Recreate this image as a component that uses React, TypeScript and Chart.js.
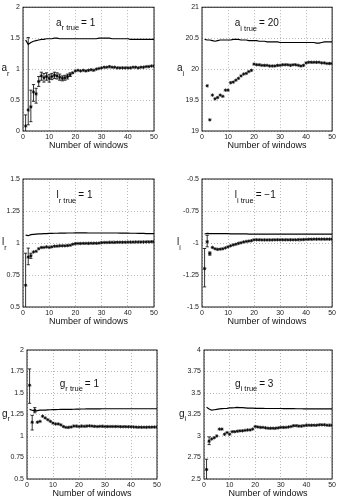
import { useEffect, useRef } from "react";
import { Chart, registerables } from "chart.js";

Chart.register(...registerables);

const FONT = '"Liberation Sans", Arial, Helvetica, sans-serif';
const INK = "#111";

// Number of analysis windows (x axis)
const WINDOWS = [
  1, 2, 3, 4, 5, 6, 7, 8, 9, 10, 11, 12, 13, 14, 15, 16, 17, 18, 19, 20,
  21, 22, 23, 24, 25, 26, 27, 28, 29, 30, 31, 32, 33, 34, 35, 36, 37, 38, 39, 40,
  41, 42, 43, 44, 45, 46, 47, 48, 49, 50,
];

// a_r : upper curve and running estimate
const AR_FIT = [
  1.47, 1.4, 1.43, 1.45, 1.46, 1.47, 1.48, 1.48, 1.49, 1.49,
  1.49, 1.5, 1.5, 1.49, 1.49, 1.49, 1.49, 1.49, 1.49, 1.49,
  1.49, 1.49, 1.49, 1.49, 1.49, 1.49, 1.49, 1.49, 1.5, 1.5,
  1.5, 1.5, 1.5, 1.49, 1.49, 1.49, 1.49, 1.49, 1.49, 1.49,
  1.48, 1.48, 1.48, 1.48, 1.48, 1.48, 1.48, 1.48, 1.48, 1.48,
];
const AR_EST = [
  0.08, 0.34, 0.39, 0.63, 0.6, 0.8, 0.89, 0.86, 0.88, 0.85,
  0.88, 0.9, 0.89, 0.87, 0.85, 0.86, 0.88, 0.91, 0.94, 0.97,
  0.98, 0.97, 0.98, 0.97, 0.98, 0.99, 0.98, 1.0, 1.01, 1.02,
  1.03, 1.03, 1.04, 1.03, 1.03, 1.02, 1.02, 1.02, 1.02, 1.02,
  1.02, 1.03, 1.03, 1.02, 1.03, 1.03, 1.04, 1.04, 1.05, 1.05,
];
const AR_LO = [-0.1, 0.1, 0.15, 0.48, 0.45, 0.72, 0.82, 0.79, 0.82, 0.79, 0.83, 0.85, 0.84, 0.82, 0.81, 0.82, 0.84, 0.88];
const AR_HI = [0.26, 1.51, 0.66, 0.75, 0.69, 0.88, 0.95, 0.93, 0.94, 0.91, 0.93, 0.95, 0.94, 0.92, 0.89, 0.9, 0.92, 0.94];

// a_i
const AI_FIT = [
  20.48, 20.47, 20.47, 20.46, 20.45, 20.46, 20.47, 20.47, 20.47, 20.47,
  20.47, 20.48, 20.48, 20.48, 20.47, 20.47, 20.47, 20.46, 20.46, 20.46,
  20.46, 20.45, 20.45, 20.45, 20.44, 20.44, 20.44, 20.44, 20.44, 20.43,
  20.43, 20.43, 20.43, 20.43, 20.43, 20.43, 20.43, 20.43, 20.43, 20.43,
  20.43, 20.43, 20.43, 20.42, 20.42, 20.43, 20.44, 20.44, 20.44, 20.44,
];
const AI_EST = [
  null, 19.73, 19.18, 19.58, 19.52, 19.54, 19.58, 19.56, 19.66, 19.66,
  19.78, 19.79, 19.82, 19.85, 19.89, 19.92, 19.93, 19.96, 19.98, 20.08,
  20.07, 20.07, 20.06, 20.06, 20.06, 20.05, 20.05, 20.05, 20.06, 20.06,
  20.07, 20.07, 20.07, 20.06, 20.07, 20.07, 20.06, 20.05, 20.06, 20.1,
  20.11, 20.11, 20.11, 20.11, 20.11, 20.1, 20.1, 20.09, 20.09, 20.09,
];
const AI_LO: number[] = [];
const AI_HI: number[] = [];

// l_r
const LR_FIT = [
  1.062, 1.057, 1.065, 1.068, 1.07, 1.071, 1.072, 1.073, 1.074, 1.075,
  1.075, 1.076, 1.076, 1.077, 1.077, 1.077, 1.078, 1.078, 1.078, 1.079,
  1.079, 1.079, 1.079, 1.079, 1.078, 1.078, 1.078, 1.078, 1.078, 1.078,
  1.078, 1.078, 1.078, 1.078, 1.078, 1.078, 1.077, 1.077, 1.077, 1.077,
  1.076, 1.076, 1.076, 1.075, 1.075, 1.075, 1.074, 1.074, 1.073, 1.073,
];
const LR_EST = [
  0.67, 0.89, 0.9, 0.93, 0.935, 0.955, 0.965, 0.965, 0.97, 0.965,
  0.97, 0.975, 0.975, 0.978, 0.978, 0.978, 0.98, 0.982, 0.99, 0.995,
  0.996, 0.996, 0.997, 0.997, 0.997, 0.998, 0.998, 0.998, 0.999, 1.003,
  1.004, 1.004, 1.005, 1.005, 1.005, 1.006, 1.006, 1.006, 1.006, 1.007,
  1.007, 1.007, 1.008, 1.008, 1.008, 1.008, 1.009, 1.009, 1.01, 1.01,
];
const LR_LO = [0.4, 0.83, 0.88];
const LR_HI = [0.92, 0.96, 0.92];

// l_i
const LI_FIT = [
  -0.93, -0.925, -0.926, -0.927, -0.927, -0.927, -0.927, -0.927, -0.927, -0.927,
  -0.928, -0.928, -0.928, -0.928, -0.929, -0.929, -0.929, -0.93, -0.93, -0.93,
  -0.93, -0.93, -0.93, -0.93, -0.93, -0.93, -0.93, -0.93, -0.93, -0.93,
  -0.93, -0.93, -0.93, -0.93, -0.93, -0.93, -0.93, -0.93, -0.93, -0.93,
  -0.93, -0.93, -0.93, -0.93, -0.93, -0.93, -0.93, -0.93, -0.93, -0.93,
];
const LI_EST = [
  -1.2, -0.99, -1.082, -1.035, -1.045, -1.05, -1.048, -1.045, -1.038, -1.03,
  -1.022, -1.015, -1.01, -1.003, -0.998, -0.992, -0.988, -0.985, -0.982, -0.975,
  -0.975, -0.975, -0.976, -0.976, -0.976, -0.976, -0.976, -0.975, -0.975, -0.975,
  -0.975, -0.975, -0.975, -0.975, -0.975, -0.975, -0.974, -0.974, -0.973, -0.972,
  -0.971, -0.971, -0.97, -0.97, -0.97, -0.97, -0.97, -0.97, -0.97, -0.97,
];
const LI_LO = [-1.343, -1.03, -1.095];
const LI_HI = [-1.043, -0.94, -1.07];

// g_r
const GR_FIT = [
  1.31, 1.3, 1.29, 1.295, 1.3, 1.3, 1.3, 1.303, 1.305, 1.306,
  1.307, 1.308, 1.309, 1.31, 1.31, 1.31, 1.31, 1.311, 1.312, 1.313,
  1.314, 1.314, 1.315, 1.315, 1.315, 1.316, 1.316, 1.316, 1.317, 1.317,
  1.317, 1.317, 1.317, 1.317, 1.317, 1.317, 1.317, 1.317, 1.317, 1.317,
  1.317, 1.317, 1.317, 1.317, 1.317, 1.317, 1.317, 1.317, 1.317, 1.317,
];
const GR_EST = [
  1.59, 1.16, 1.3, 1.16, 1.17, 1.23, 1.21, 1.19, 1.17, 1.15,
  1.14, 1.14, 1.13, 1.11, 1.1, 1.1, 1.105, 1.115, 1.115, 1.11,
  1.115, 1.112, 1.115, 1.118, 1.115, 1.112, 1.11, 1.112, 1.113, 1.11,
  1.11, 1.11, 1.11, 1.11, 1.11, 1.108, 1.108, 1.108, 1.107, 1.107,
  1.105, 1.103, 1.102, 1.102, 1.102, 1.102, 1.103, 1.103, 1.104, 1.104,
];
const GR_LO = [1.38, 1.07, 1.27];
const GR_HI = [1.78, 1.24, 1.33];

// g_i
const GI_FIT = [
  3.333, 3.314, 3.3, 3.305, 3.31, 3.315, 3.318, 3.32, 3.322, 3.326,
  3.328, 3.33, 3.333, 3.331, 3.329, 3.327, 3.325, 3.324, 3.323, 3.322,
  3.322, 3.321, 3.321, 3.32, 3.32, 3.32, 3.32, 3.32, 3.32, 3.32,
  3.319, 3.319, 3.318, 3.318, 3.318, 3.317, 3.317, 3.317, 3.316, 3.316,
  3.316, 3.316, 3.315, 3.315, 3.315, 3.315, 3.315, 3.315, 3.315, 3.315,
];
const GI_EST = [
  2.61, 2.94, 2.965, 2.98, 3.0, 3.08, 3.08, 3.02, 3.04, 3.02,
  3.05, 3.05, 3.055, 3.06, 3.06, 3.065, 3.07, 3.07, 3.08, 3.11,
  3.105, 3.1, 3.1, 3.095, 3.09, 3.09, 3.09, 3.09, 3.095, 3.1,
  3.1, 3.1, 3.105, 3.11, 3.12, 3.12, 3.115, 3.115, 3.12, 3.125,
  3.125, 3.125, 3.125, 3.125, 3.13, 3.13, 3.13, 3.125, 3.125, 3.125,
];
const GI_LO = [2.45, 2.9];
const GI_HI = [2.73, 2.99];

type Spec = {
  box: { left: number; top: number; w: number; h: number };
  area: { left: number; top: number; right: number; bottom: number };
  yMin: number;
  yMax: number;
  yStep: number;
  fit: (number | null)[];
  est: (number | null)[];
  lo: number[];
  hi: number[];
  sym: string;
  axisSub: string;
  noteSub: string;
  noteTail: string;
  noteX: number;
  noteY: number;
  labelX: number;
};

const PANELS: Spec[] = [
  {
    box: { left: 0, top: 0, w: 169, h: 170 },
    area: { left: 23, top: 6, right: 154, bottom: 131 },
    yMin: 0, yMax: 2, yStep: 0.5,
    fit: AR_FIT, est: AR_EST, lo: AR_LO, hi: AR_HI,
    sym: "a", axisSub: "r", noteSub: "r true", noteTail: "= 1",
    noteX: 12.6, noteY: 1.7, labelX: 1.5,
  },
  {
    box: { left: 169, top: 0, w: 169, h: 170 },
    area: { left: 33, top: 7, right: 164, bottom: 131 },
    yMin: 19, yMax: 21, yStep: 0.5,
    fit: AI_FIT, est: AI_EST, lo: AI_LO, hi: AI_HI,
    sym: "a", axisSub: "i", noteSub: "i true", noteTail: "= 20",
    noteX: 12.6, noteY: 20.69, labelX: 8,
  },
  {
    box: { left: 0, top: 170, w: 169, h: 165 },
    area: { left: 23, top: 9, right: 154, bottom: 137 },
    yMin: 0.5, yMax: 1.5, yStep: 0.25,
    fit: LR_FIT, est: LR_EST, lo: LR_LO, hi: LR_HI,
    sym: "l", axisSub: "r", noteSub: "r true", noteTail: "= 1",
    noteX: 12.8, noteY: 1.35, labelX: 2,
  },
  {
    box: { left: 169, top: 170, w: 169, h: 165 },
    area: { left: 33, top: 9, right: 164, bottom: 137 },
    yMin: -1.5, yMax: -0.5, yStep: 0.25,
    fit: LI_FIT, est: LI_EST, lo: LI_LO, hi: LI_HI,
    sym: "l", axisSub: "i", noteSub: "i true", noteTail: "= \u22121",
    noteX: 12.6, noteY: -0.65, labelX: 8,
  },
  {
    box: { left: 0, top: 335, w: 169, h: 165 },
    area: { left: 27, top: 15, right: 157, bottom: 144 },
    yMin: 0.5, yMax: 2, yStep: 0.25,
    fit: GR_FIT, est: GR_EST, lo: GR_LO, hi: GR_HI,
    sym: "g", axisSub: "r", noteSub: "r true", noteTail: "= 1",
    noteX: 12.6, noteY: 1.57, labelX: 2,
  },
  {
    box: { left: 169, top: 335, w: 169, h: 165 },
    area: { left: 35, top: 15, right: 164, bottom: 144 },
    yMin: 2.5, yMax: 4, yStep: 0.25,
    fit: GI_FIT, est: GI_EST, lo: GI_LO, hi: GI_HI,
    sym: "g", axisSub: "i", noteSub: "i true", noteTail: "= 3",
    noteX: 12.1, noteY: 3.57, labelX: 10,
  },
];

const fmt = (v: number | string) => String(Number(Number(v).toFixed(4)));

function drawSubscripted(
  ctx: CanvasRenderingContext2D,
  x: number,
  y: number,
  main: string,
  sub: string,
  tail: string,
  mainSize: number,
  subSize: number,
) {
  ctx.textAlign = "left";
  ctx.textBaseline = "alphabetic";
  ctx.font = `${mainSize}px ${FONT}`;
  ctx.fillText(main, x, y);
  let cx = x + ctx.measureText(main).width;
  ctx.font = `${subSize}px ${FONT}`;
  ctx.fillText(sub, cx, y + 4.5);
  cx += ctx.measureText(sub).width;
  if (tail) {
    ctx.font = `${mainSize}px ${FONT}`;
    ctx.fillText(tail, cx + 2, y);
  }
}

function ParamPanel({ spec }: { spec: Spec }) {
  const ref = useRef<HTMLCanvasElement>(null);

  useEffect(() => {
    const canvas = ref.current;
    if (!canvas) return;
    const { box, area } = spec;

    const overlay = {
      id: "overlay",
      afterDatasetsDraw(chart: any) {
        const { ctx, chartArea: ca, scales } = chart;
        const xs = scales.x;
        const ys = scales.y;
        ctx.save();
        ctx.beginPath();
        ctx.rect(ca.left, ca.top, ca.right - ca.left, ca.bottom - ca.top);
        ctx.clip();
        ctx.strokeStyle = "#000";
        ctx.lineWidth = 0.8;
        spec.lo.forEach((lo, i) => {
          const px = xs.getPixelForValue(WINDOWS[i]);
          const p1 = ys.getPixelForValue(lo);
          const p2 = ys.getPixelForValue(spec.hi[i]);
          ctx.beginPath();
          ctx.moveTo(px, p1);
          ctx.lineTo(px, p2);
          ctx.moveTo(px - 1.6, p1);
          ctx.lineTo(px + 1.6, p1);
          ctx.moveTo(px - 1.6, p2);
          ctx.lineTo(px + 1.6, p2);
          ctx.stroke();
        });
        ctx.restore();

        // axes box
        ctx.save();
        ctx.strokeStyle = "#000";
        ctx.lineWidth = 0.9;
        ctx.strokeRect(ca.left, ca.top, ca.right - ca.left, ca.bottom - ca.top);
        ctx.restore();
      },
      afterDraw(chart: any) {
        const { ctx, chartArea: ca, scales } = chart;
        ctx.save();
        ctx.fillStyle = INK;
        // x axis title
        ctx.font = `9px ${FONT}`;
        ctx.textAlign = "center";
        ctx.textBaseline = "middle";
        ctx.fillText("Number of windows", (ca.left + ca.right) / 2, ca.bottom + 15);
        // y axis symbol
        drawSubscripted(ctx, spec.labelX, (ca.top + ca.bottom) / 2 + 2, spec.sym, spec.axisSub, "", 10, 7);
        // true value note
        const nx = scales.x.getPixelForValue(spec.noteX);
        const ny = scales.y.getPixelForValue(spec.noteY);
        drawSubscripted(ctx, nx, ny, spec.sym, spec.noteSub, spec.noteTail, 10, 7.5);
        ctx.restore();
      },
    };

    const tickFont = { family: FONT, size: 7 };
    const chart = new Chart(canvas, {
      type: "line",
      data: {
        datasets: [
          {
            data: WINDOWS.map((w, i) => ({ x: w, y: spec.fit[i] })) as any,
            borderColor: "#000",
            borderWidth: 1.2,
            pointRadius: 0,
            tension: 0,
            fill: false,
          },
          {
            data: WINDOWS.map((w, i) => ({ x: w, y: spec.est[i] })) as any,
            showLine: false,
            pointStyle: "star",
            pointRadius: 1.7,
            pointBorderWidth: 0.8,
            borderColor: "#000",
            backgroundColor: "#000",
          },
        ],
      },
      options: {
        animation: false,
        responsive: false,
        devicePixelRatio: 1,
        events: [],
        layout: { padding: { left: 0, top: area.top, right: box.w - area.right, bottom: 0 } },
        plugins: { legend: { display: false }, tooltip: { enabled: false } },
        scales: {
          x: {
            type: "linear",
            min: 0,
            max: 50,
            ticks: { stepSize: 10, font: tickFont, color: "#222", padding: 2, maxRotation: 0, callback: fmt },
            grid: { color: "rgba(0,0,0,0.4)", lineWidth: 0.7, drawTicks: false },
            border: { display: false, dash: [1, 2] },
            afterFit: (s: any) => {
              s.height = box.h - area.bottom;
            },
          },
          y: {
            type: "linear",
            min: spec.yMin,
            max: spec.yMax,
            ticks: { stepSize: spec.yStep, font: tickFont, color: "#222", padding: 3, callback: fmt },
            grid: { color: "rgba(0,0,0,0.4)", lineWidth: 0.7, drawTicks: false },
            border: { display: false, dash: [1, 2] },
            afterFit: (s: any) => {
              s.width = area.left;
            },
          },
        },
      } as any,
      plugins: [overlay],
    });

    return () => chart.destroy();
  }, [spec]);

  return (
    <canvas
      ref={ref}
      width={spec.box.w}
      height={spec.box.h}
      style={{
        position: "absolute",
        left: spec.box.left,
        top: spec.box.top,
        width: spec.box.w,
        height: spec.box.h,
      }}
    />
  );
}

export default function App() {
  return (
    <div
      style={{
        position: "absolute",
        left: 0,
        top: 0,
        width: 338,
        height: 500,
        background: "#fff",
        overflow: "hidden",
      }}
    >
      {PANELS.map((p, i) => (
        <ParamPanel key={i} spec={p} />
      ))}
    </div>
  );
}
